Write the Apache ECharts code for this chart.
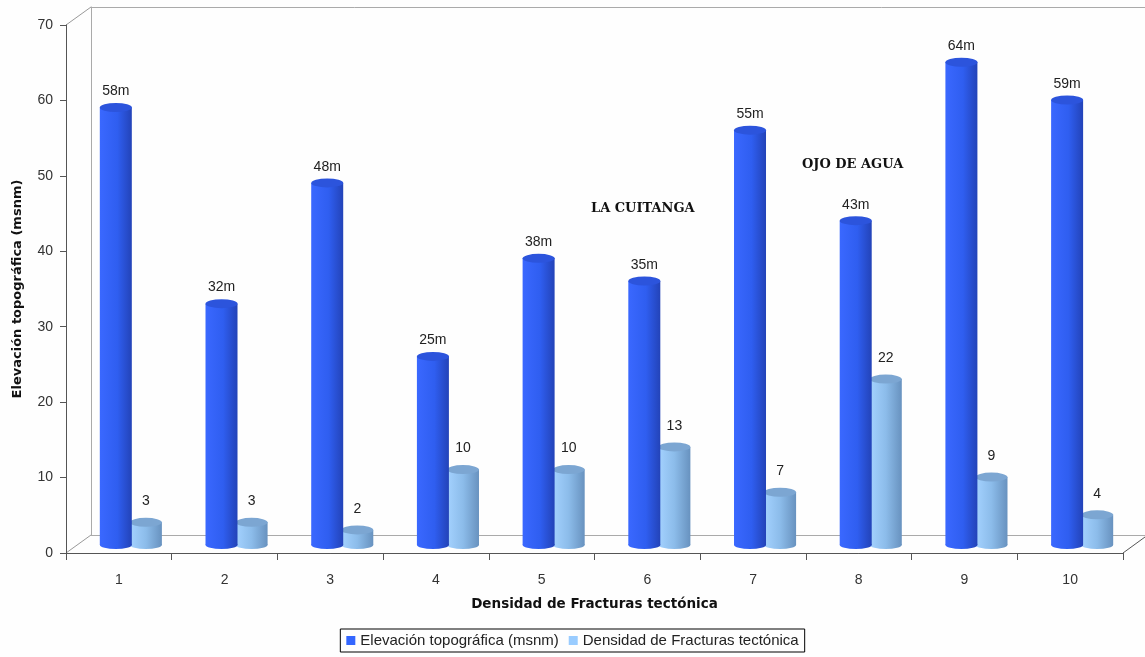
<!DOCTYPE html>
<html>
<head>
<meta charset="utf-8">
<script src="https://cdn.jsdelivr.net/npm/echarts@6/dist/echarts.min.js"></script>
<style>
  html, body { margin: 0; padding: 0; background: #fefefe; }
  #chart { width: 1145px; height: 657px; }
</style>
</head>
<body>
<div id="chart"></div>
<script>
// datos
const categorias = ['1', '2', '3', '4', '5', '6', '7', '8', '9', '10'];
const elevacion = [58, 32, 48, 25, 38, 35, 55, 43, 64, 59];
const densidad = [3, 3, 2, 10, 10, 13, 7, 22, 9, 4];
const nombreElev = 'Elevación topográfica (msnm)';
const nombreDens = 'Densidad de Fracturas tectónica';

const fuente = '"Liberation Sans", Arial, sans-serif';
const fuenteTitulo = '"DejaVu Sans", Verdana, sans-serif';
const anchoBarra = 32;

const gradOscuro = new echarts.graphic.LinearGradient(0, 0, 1, 0, [
  { offset: 0, color: '#3a68ff' },
  { offset: 0.55, color: '#2f5ef0' },
  { offset: 1, color: '#2343b8' }
]);
const gradClaro = new echarts.graphic.LinearGradient(0, 0, 1, 0, [
  { offset: 0, color: '#a4d2ff' },
  { offset: 0.5, color: '#8cbcea' },
  { offset: 1, color: '#6892bf' }
]);

const chart = echarts.init(document.getElementById('chart'));

const ejeOculto = { show: false };

chart.setOption({
  backgroundColor: '#fefefe',
  animation: false,
  textStyle: { fontFamily: fuente },
  grid: [
    // ejes frontales
    { left: 66, right: 22, top: 25, bottom: 104, outerBoundsMode: 'none' },
    // barras (a media profundidad)
    { left: 78, right: 10, top: 17, bottom: 112, outerBoundsMode: 'none' },
    // pared del fondo
    { left: 91, right: 0, top: 7, bottom: 122, outerBoundsMode: 'none' }
  ],
  legend: {
    bottom: 5,
    left: 'center',
    data: [
      { name: nombreElev, itemStyle: { color: '#3366ff' } },
      { name: nombreDens, itemStyle: { color: '#99ccff' } }
    ],
    itemWidth: 9,
    itemHeight: 9,
    itemGap: 10,
    icon: 'rect',
    borderColor: '#000',
    borderWidth: 1,
    borderRadius: 0,
    padding: [4, 6],
    textStyle: { fontSize: 15, color: '#222', fontFamily: fuente }
  },
  xAxis: [
    {
      gridIndex: 0,
      type: 'category',
      data: categorias,
      axisLine: { lineStyle: { color: '#555' } },
      axisTick: { show: true, length: 7, lineStyle: { color: '#555' } },
      axisLabel: { fontSize: 14, color: '#333', margin: 20 },
      name: nombreDens,
      nameLocation: 'middle',
      nameGap: 44,
      nameTextStyle: { fontSize: 13.5, fontWeight: 'bold', color: '#111', fontFamily: fuenteTitulo }
    },
    { gridIndex: 1, type: 'category', data: categorias, show: false },
    {
      gridIndex: 2, type: 'category', data: categorias, position: 'bottom',
      axisLine: { lineStyle: { color: '#aaa' } }, axisTick: ejeOculto, axisLabel: ejeOculto
    },
    {
      gridIndex: 2, type: 'category', data: categorias, position: 'top',
      axisLine: { lineStyle: { color: '#aaa' } }, axisTick: ejeOculto, axisLabel: ejeOculto
    }
  ],
  yAxis: [
    {
      gridIndex: 0,
      type: 'value',
      min: 0,
      max: 70,
      interval: 10,
      axisLine: { show: true, lineStyle: { color: '#555' } },
      axisTick: { show: true, length: 6, lineStyle: { color: '#555' } },
      axisLabel: { fontSize: 14, color: '#333', margin: 13 },
      splitLine: ejeOculto,
      name: nombreElev,
      nameLocation: 'middle',
      nameGap: 42,
      nameTextStyle: { fontSize: 13, fontWeight: 'bold', color: '#111', fontFamily: fuenteTitulo }
    },
    { gridIndex: 1, type: 'value', min: 0, max: 70, show: false },
    {
      gridIndex: 2, type: 'value', min: 0, max: 70,
      axisLine: { show: true, lineStyle: { color: '#aaa' } },
      axisTick: ejeOculto, axisLabel: ejeOculto, splitLine: ejeOculto
    }
  ],
  series: [
    {
      name: nombreElev,
      type: 'bar',
      xAxisIndex: 1,
      yAxisIndex: 1,
      data: elevacion,
      barWidth: anchoBarra,
      barGap: '-6%',
      itemStyle: { color: gradOscuro },
      label: {
        show: true, position: 'top', distance: 9,
        formatter: '{c}m', fontSize: 14, color: '#222', fontFamily: fuente
      },
      z: 3
    },
    {
      name: nombreDens,
      type: 'bar',
      xAxisIndex: 1,
      yAxisIndex: 1,
      data: densidad,
      barWidth: anchoBarra,
      itemStyle: { color: gradClaro },
      label: {
        show: true, position: 'top', distance: 14,
        fontSize: 14, color: '#222', fontFamily: fuente
      },
      z: 2
    },
    // tapas superiores de los cilindros
    {
      name: 'tapaElev',
      type: 'pictorialBar',
      xAxisIndex: 1,
      yAxisIndex: 1,
      data: elevacion,
      symbol: 'circle',
      symbolSize: [anchoBarra, 9],
      symbolPosition: 'end',
      symbolOffset: [-15, '-50%'],
      itemStyle: { color: '#2c54dc' },
      z: 4
    },
    {
      name: 'tapaDens',
      type: 'pictorialBar',
      xAxisIndex: 1,
      yAxisIndex: 1,
      data: densidad,
      symbol: 'circle',
      symbolSize: [anchoBarra, 9],
      symbolPosition: 'end',
      symbolOffset: [15, '-50%'],
      itemStyle: { color: '#7ca6d2' },
      z: 3
    },
    // bases redondeadas
    {
      name: 'baseElev',
      type: 'pictorialBar',
      xAxisIndex: 1,
      yAxisIndex: 1,
      data: elevacion,
      symbol: 'circle',
      symbolSize: [anchoBarra, 8],
      symbolPosition: 'start',
      symbolOffset: [-15, '50%'],
      itemStyle: { color: gradOscuro },
      z: 3
    },
    {
      name: 'baseDens',
      type: 'pictorialBar',
      xAxisIndex: 1,
      yAxisIndex: 1,
      data: densidad,
      symbol: 'circle',
      symbolSize: [anchoBarra, 8],
      symbolPosition: 'start',
      symbolOffset: [15, '50%'],
      itemStyle: { color: gradClaro },
      z: 2
    }
  ],
  graphic: [
    // diagonales del marco 3D
    { type: 'line', shape: { x1: 66, y1: 25, x2: 91, y2: 7 }, style: { stroke: '#999', lineWidth: 1 } },
    { type: 'line', shape: { x1: 66, y1: 553, x2: 91, y2: 535 }, style: { stroke: '#999', lineWidth: 1 } },
    { type: 'line', shape: { x1: 1123, y1: 553, x2: 1145, y2: 537 }, style: { stroke: '#555', lineWidth: 1 } },
    // anotaciones
    {
      type: 'text', left: 591, top: 202,
      style: { text: 'LA CUITANGA', font: 'bold 13px "DejaVu Serif", serif', fill: '#111', letterSpacing: 1.3 }
    },
    {
      type: 'text', left: 802, top: 158,
      style: { text: 'OJO DE AGUA', font: 'bold 13px "DejaVu Serif", serif', fill: '#111', letterSpacing: 1.3 }
    }
  ]
});
</script>
</body>
</html>
